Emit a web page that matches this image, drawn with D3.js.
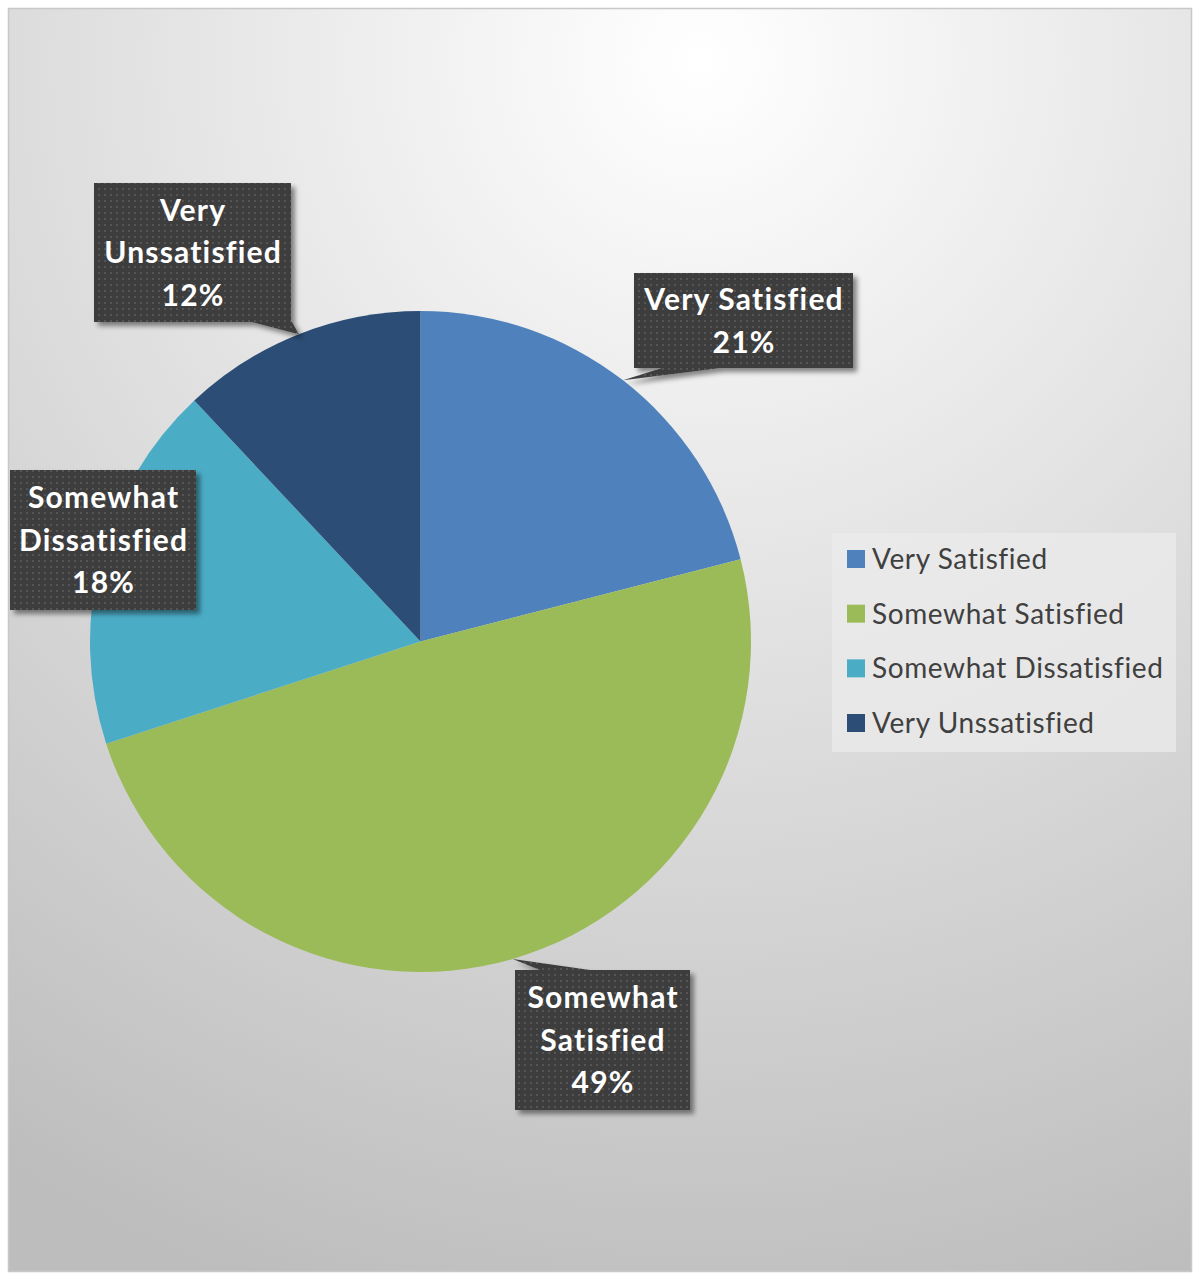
<!DOCTYPE html>
<html><head><meta charset="utf-8">
<script src="https://cdn.jsdelivr.net/npm/d3@7"></script>
<style>html,body{margin:0;padding:0;background:#fff;}svg{display:block;}text{font-variant-ligatures:none;font-feature-settings:"liga" 0;}</style>
</head><body>
<svg id="chart" width="1197" height="1273"></svg>
<script>
const categories = ["Very Satisfied", "Somewhat Satisfied", "Somewhat Dissatisfied", "Very Unssatisfied"];
const values = [21, 49, 18, 12];
const labelLines = [["Very Satisfied", "21%"], ["Somewhat", "Satisfied", "49%"], ["Somewhat", "Dissatisfied", "18%"], ["Very", "Unssatisfied", "12%"]];
const colors = ["#4f81bd", "#9bbb59", "#4bacc6", "#2c4d75"];

const svg = d3.select("#chart");
const defs = svg.append("defs");

const bg = defs.append("radialGradient").attr("id", "bg").attr("gradientUnits", "userSpaceOnUse")
  .attr("cx", 700).attr("cy", 60).attr("r", 1300);
bg.append("stop").attr("offset", "0").attr("stop-color", "#ffffff");
bg.append("stop").attr("offset", "1").attr("stop-color", "#bdbdbd");

const pat = defs.append("pattern").attr("id", "dots").attr("patternUnits", "userSpaceOnUse").attr("width", 6).attr("height", 6);
pat.append("rect").attr("width", 6).attr("height", 6).attr("fill", "#3d3d3d");
pat.append("rect").attr("x", 2).attr("y", 2).attr("width", 2).attr("height", 2).attr("fill", "#555555");

const sh = defs.append("filter").attr("id", "shadow").attr("x", "-20%").attr("y", "-20%").attr("width", "150%").attr("height", "150%");
sh.append("feDropShadow").attr("dx", 4).attr("dy", 4).attr("stdDeviation", 2.5).attr("flood-color", "#000").attr("flood-opacity", 0.45);

// Chart area
svg.append("rect").attr("x", 8.5).attr("y", 8.5).attr("width", 1183).attr("height", 1263)
  .attr("fill", "url(#bg)").attr("stroke", "#c8c8c8").attr("stroke-width", 1.5);

const cx = 420.5, cy = 641.5, R = 330.5;
const pie = d3.pie().value(d => d).sort(null);
const arcs = pie(values);
const arc = d3.arc().innerRadius(0).outerRadius(R);
const edgeArc = d3.arc().innerRadius(R).outerRadius(R);

const g = svg.append("g").attr("transform", `translate(${cx},${cy})`);
g.selectAll("path.slice").data(arcs).join("path").attr("class", "slice")
  .attr("d", arc).attr("fill", (d, i) => colors[i]);

// Data label boxes (layout)
const boxes = [
  {x: 634, y: 273, w: 219, h: 95, base: [[662, 368], [720, 368]]},
  {x: 515, y: 970, w: 175, h: 140, base: [[540, 970], [590, 970]]},
  {x: 10, y: 470, w: 186, h: 140, base: null},
  {x: 94, y: 183, w: 197, h: 139, base: [[252, 322], [292, 322]]}
];
const lineH = 42.5;
const ls = 1.2;
const lg = svg.append("g");
arcs.forEach((d, i) => {
  const b = boxes[i];
  const gg = lg.append("g").attr("filter", "url(#shadow)");
  if (b.base) {
    const c = edgeArc.centroid(d);
    const tip = [cx + c[0], cy + c[1]];
    gg.append("path").attr("d", d3.line()([b.base[0], tip, b.base[1]]) + "Z").attr("fill", "url(#dots)");
  }
  gg.append("rect").attr("x", b.x).attr("y", b.y).attr("width", b.w).attr("height", b.h).attr("fill", "url(#dots)");
  const lines = labelLines[i];
  const midY = b.y + b.h / 2;
  lines.forEach((t, k) => {
    lg.append("text").attr("x", b.x + b.w / 2 + ls / 2)
      .attr("y", midY + (k - (lines.length - 1) / 2) * lineH)
      .attr("dy", "0.36em")
      .attr("text-anchor", "middle").attr("fill", "#ffffff")
      .attr("font-family", "Lato, 'Open Sans', sans-serif").attr("font-weight", "bold").attr("font-size", 30)
      .attr("letter-spacing", ls)
      .text(t);
  });
});

// Legend
const leg = svg.append("g");
leg.append("rect").attr("x", 832).attr("y", 533).attr("width", 344).attr("height", 219).attr("fill", "#ebebeb").attr("fill-opacity", 0.75);
const ly = d3.scalePoint().domain(categories).range([559, 723]);
categories.forEach((c, i) => {
  leg.append("rect").attr("x", 847).attr("y", ly(c) - 9).attr("width", 18).attr("height", 18).attr("fill", colors[i]);
  leg.append("text").attr("x", 872).attr("y", ly(c)).attr("dy", "0.36em")
    .attr("fill", "#404040").attr("font-family", "Lato, 'Open Sans', sans-serif").attr("font-size", 28)
    .attr("letter-spacing", 0.6)
    .text(c);
});
</script>
</body></html>
